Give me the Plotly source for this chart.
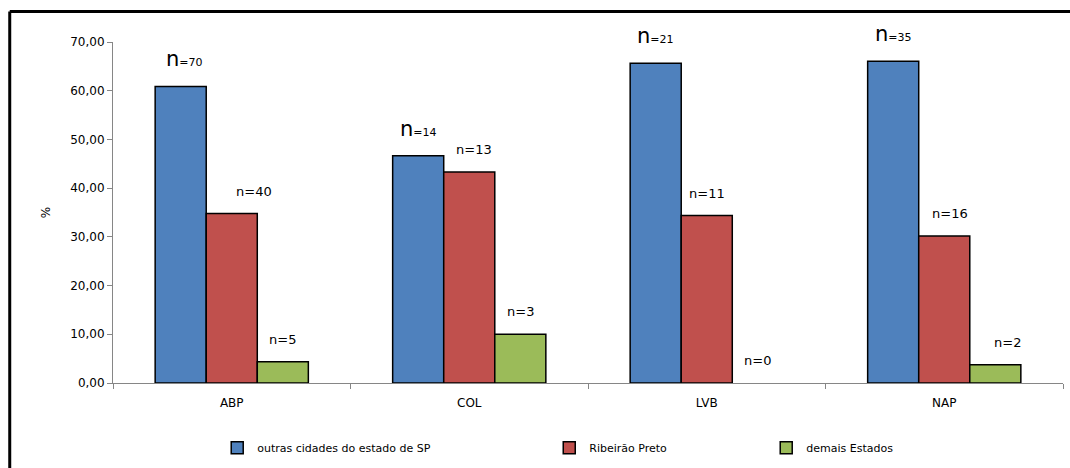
import plotly.graph_objects as go

categories = ["ABP", "COL", "LVB", "NAP"]
series_names = ["outras cidades do estado de SP", "Ribeirão Preto", "demais Estados"]
outras = [60.87, 46.67, 65.63, 66.04]
ribeirao = [34.78, 43.33, 34.38, 30.19]
demais = [4.35, 10.00, 0.00, 3.77]
n_outras = [70, 14, 21, 35]
n_ribeirao = [40, 13, 11, 16]
n_demais = [5, 3, 0, 2]
y_ticks = [0, 10, 20, 30, 40, 50, 60, 70]

colors = ["#4F81BD", "#C0504D", "#9BBB59"]
values = [outras, ribeirao, demais]
counts = [n_outras, n_ribeirao, n_demais]
bargap = 0.355
bw = (1 - bargap) / 3

fig = go.Figure()
legend_names = ["legend", "legend2", "legend3"]
for j in range(3):
    line_w = [1.5 if v > 0 else 0 for v in values[j]]
    fig.add_trace(go.Bar(
        x=categories, y=values[j], name=series_names[j],
        marker=dict(color=colors[j], line=dict(color="#000000", width=line_w)),
        legend=legend_names[j], showlegend=True, hoverinfo="x+y+name",
    ))

annotations = []
label_dx = [[4, 0, 0, 0], [22, 5, 0, 6], [0, 0, 0, 12]]
for j in range(3):
    for i, cat in enumerate(categories):
        if j == 0:
            txt = "<span style='font-size:21px'>n</span>=%d" % counts[j][i]
            size = 11
        else:
            txt = "n=%d" % counts[j][i]
            size = 13
        annotations.append(dict(
            x=i + (j - 1) * bw, y=values[j][i], xref="x", yref="y",
            text=txt, showarrow=False, yanchor="bottom", xanchor="center",
            yshift=13, xshift=label_dx[j][i],
            font=dict(family="DejaVu Sans", size=size, color="#000000"),
        ))

legend_common = dict(orientation="h", y=-0.19, xanchor="left", yanchor="middle",
                     font=dict(size=11), bgcolor="rgba(0,0,0,0)", visible=True)

fig.update_layout(
    width=1070, height=468,
    showlegend=True,
    margin=dict(l=113, r=7, t=42, b=85, autoexpand=False),
    paper_bgcolor="white", plot_bgcolor="white",
    barmode="group", bargap=bargap, bargroupgap=0,
    separators=",.",
    font=dict(family="DejaVu Sans", size=12, color="#000000"),
    annotations=annotations,
    xaxis=dict(
        type="category", showline=True, linecolor="#868686", linewidth=1,
        ticks="outside", tickson="boundaries", ticklen=5, tickcolor="#868686",
        showgrid=False, tickfont=dict(size=12), range=[-0.5, 3.5], automargin=False,
        ticklabelstandoff=9,
    ),
    yaxis=dict(
        range=[0, 70], tickvals=y_ticks, tickformat=".2f",
        showline=True, linecolor="#868686", linewidth=1,
        ticks="outside", ticklen=5, tickcolor="#868686", showgrid=False,
        zeroline=False, tickfont=dict(size=12), automargin=False,
        title=dict(text="%", font=dict(size=12), standoff=17),
    ),
    legend=dict(x=0.1097, **legend_common),
    legend2=dict(x=0.4592, **legend_common),
    legend3=dict(x=0.6876, **legend_common),
    shapes=[
        dict(type="line", xref="paper", yref="paper", x0=-0.1087, x1=1.02, y0=1.0891, y1=1.0891,
             line=dict(color="#000000", width=3)),
        dict(type="line", xref="paper", yref="paper", x0=-0.1087, x1=-0.1087, y0=1.0891, y1=-0.27,
             line=dict(color="#000000", width=3)),
    ],
)

fig.write_html("out.html", config={"displayModeBar": False},
               post_script="document.body.style.margin='0';")
